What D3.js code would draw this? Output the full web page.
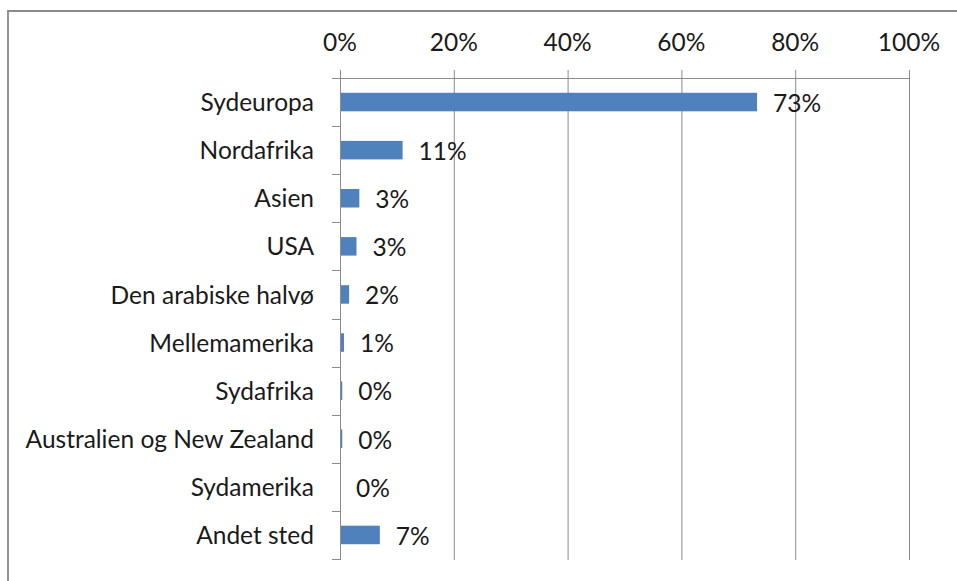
<!DOCTYPE html>
<html>
<head>
<meta charset="utf-8">
<script src="https://cdn.jsdelivr.net/npm/d3@7"></script>
<style>
  html, body { margin: 0; padding: 0; background: #fff; }
  svg { display: block; font-family: Lato, "Liberation Sans", Arial, sans-serif; }
</style>
</head>
<body>
<div id="chart"></div>
<script>
const categories = [
  "Sydeuropa",
  "Nordafrika",
  "Asien",
  "USA",
  "Den arabiske halvø",
  "Mellemamerika",
  "Sydafrika",
  "Australien og New Zealand",
  "Sydamerika",
  "Andet sted",
];
// share of answers, in percent
const values = [73.3, 11.0, 3.4, 2.9, 1.6, 0.7, 0.4, 0.4, 0.0, 7.0];
const xTicks = [0, 20, 40, 60, 80, 100];

const width = 957;
const height = 581;
const margin = { top: 78, right: 48, bottom: 22, left: 340 };
const fontSize = 24.5;
const gridColor = "#8c8c8c";

const svg = d3.select("#chart")
  .append("svg")
  .attr("width", width)
  .attr("height", height);

// outer chart frame (right and bottom edges fall outside the picture)
svg.append("path")
  .attr("d", `M8,${height + 2} L8,11 L${width + 2},11`)
  .attr("fill", "none")
  .attr("stroke", "#8a8a8a")
  .attr("stroke-width", 1.8);

const x = d3.scaleLinear()
  .domain([0, 100])
  .range([margin.left, width - margin.right]);

const y = d3.scaleBand()
  .domain(categories)
  .range([margin.top, height - margin.bottom])
  .paddingInner(0.615)
  .paddingOuter(0.3075);

const band = (height - margin.bottom - margin.top) / categories.length;
const yTop = margin.top;
const yBottom = height - margin.bottom;

// vertical gridlines, reaching above the top axis as tick marks
svg.append("g")
  .selectAll("line")
  .data(xTicks.filter((d) => d > 0))
  .join("line")
  .attr("x1", (d) => x(d) + 0.5)
  .attr("x2", (d) => x(d) + 0.5)
  .attr("y1", yTop - 8)
  .attr("y2", yBottom + 1)
  .attr("stroke", gridColor)
  .attr("stroke-width", 1);

// top axis line
svg.append("line")
  .attr("x1", margin.left - 8)
  .attr("x2", x(100) + 0.5)
  .attr("y1", yTop + 0.5)
  .attr("y2", yTop + 0.5)
  .attr("stroke", gridColor);

// tick labels
svg.append("g")
  .selectAll("text")
  .data(xTicks)
  .join("text")
  .attr("x", (d) => x(d))
  .attr("y", 51)
  .attr("text-anchor", "middle")
  .attr("font-size", fontSize)
  .attr("fill", "#1a1a1a")
  .text((d) => d + "%");

// bars
svg.append("g")
  .selectAll("rect")
  .data(values)
  .join("rect")
  .attr("x", x(0))
  .attr("y", (d, i) => y(categories[i]))
  .attr("width", (d) => x(d) - x(0))
  .attr("height", y.bandwidth())
  .attr("fill", "#4f81bd");

// left axis with category separator ticks
svg.append("line")
  .attr("x1", x(0) + 0.5)
  .attr("x2", x(0) + 0.5)
  .attr("y1", yTop - 8)
  .attr("y2", yBottom + 1)
  .attr("stroke", gridColor);

svg.append("g")
  .selectAll("line")
  .data(d3.range(categories.length + 1))
  .join("line")
  .attr("x1", x(0) - 8)
  .attr("x2", x(0))
  .attr("y1", (i) => Math.round(yTop + i * band) + 0.5)
  .attr("y2", (i) => Math.round(yTop + i * band) + 0.5)
  .attr("stroke", gridColor);

// category labels
svg.append("g")
  .selectAll("text")
  .data(categories)
  .join("text")
  .attr("x", 314)
  .attr("y", (d) => y(d) + y.bandwidth() / 2)
  .attr("dy", "0.37em")
  .attr("text-anchor", "end")
  .attr("font-size", fontSize)
  .attr("fill", "#1a1a1a")
  .text((d) => d);

// data labels
const fmt = (v) => Math.round(v) + "%";
svg.append("g")
  .selectAll("text")
  .data(values)
  .join("text")
  .attr("x", (d) => x(d) + 16)
  .attr("y", (d, i) => y(categories[i]) + y.bandwidth() / 2)
  .attr("dy", "0.4em")
  .attr("font-size", fontSize)
  .attr("fill", "#1a1a1a")
  .text(fmt);
</script>
</body>
</html>
